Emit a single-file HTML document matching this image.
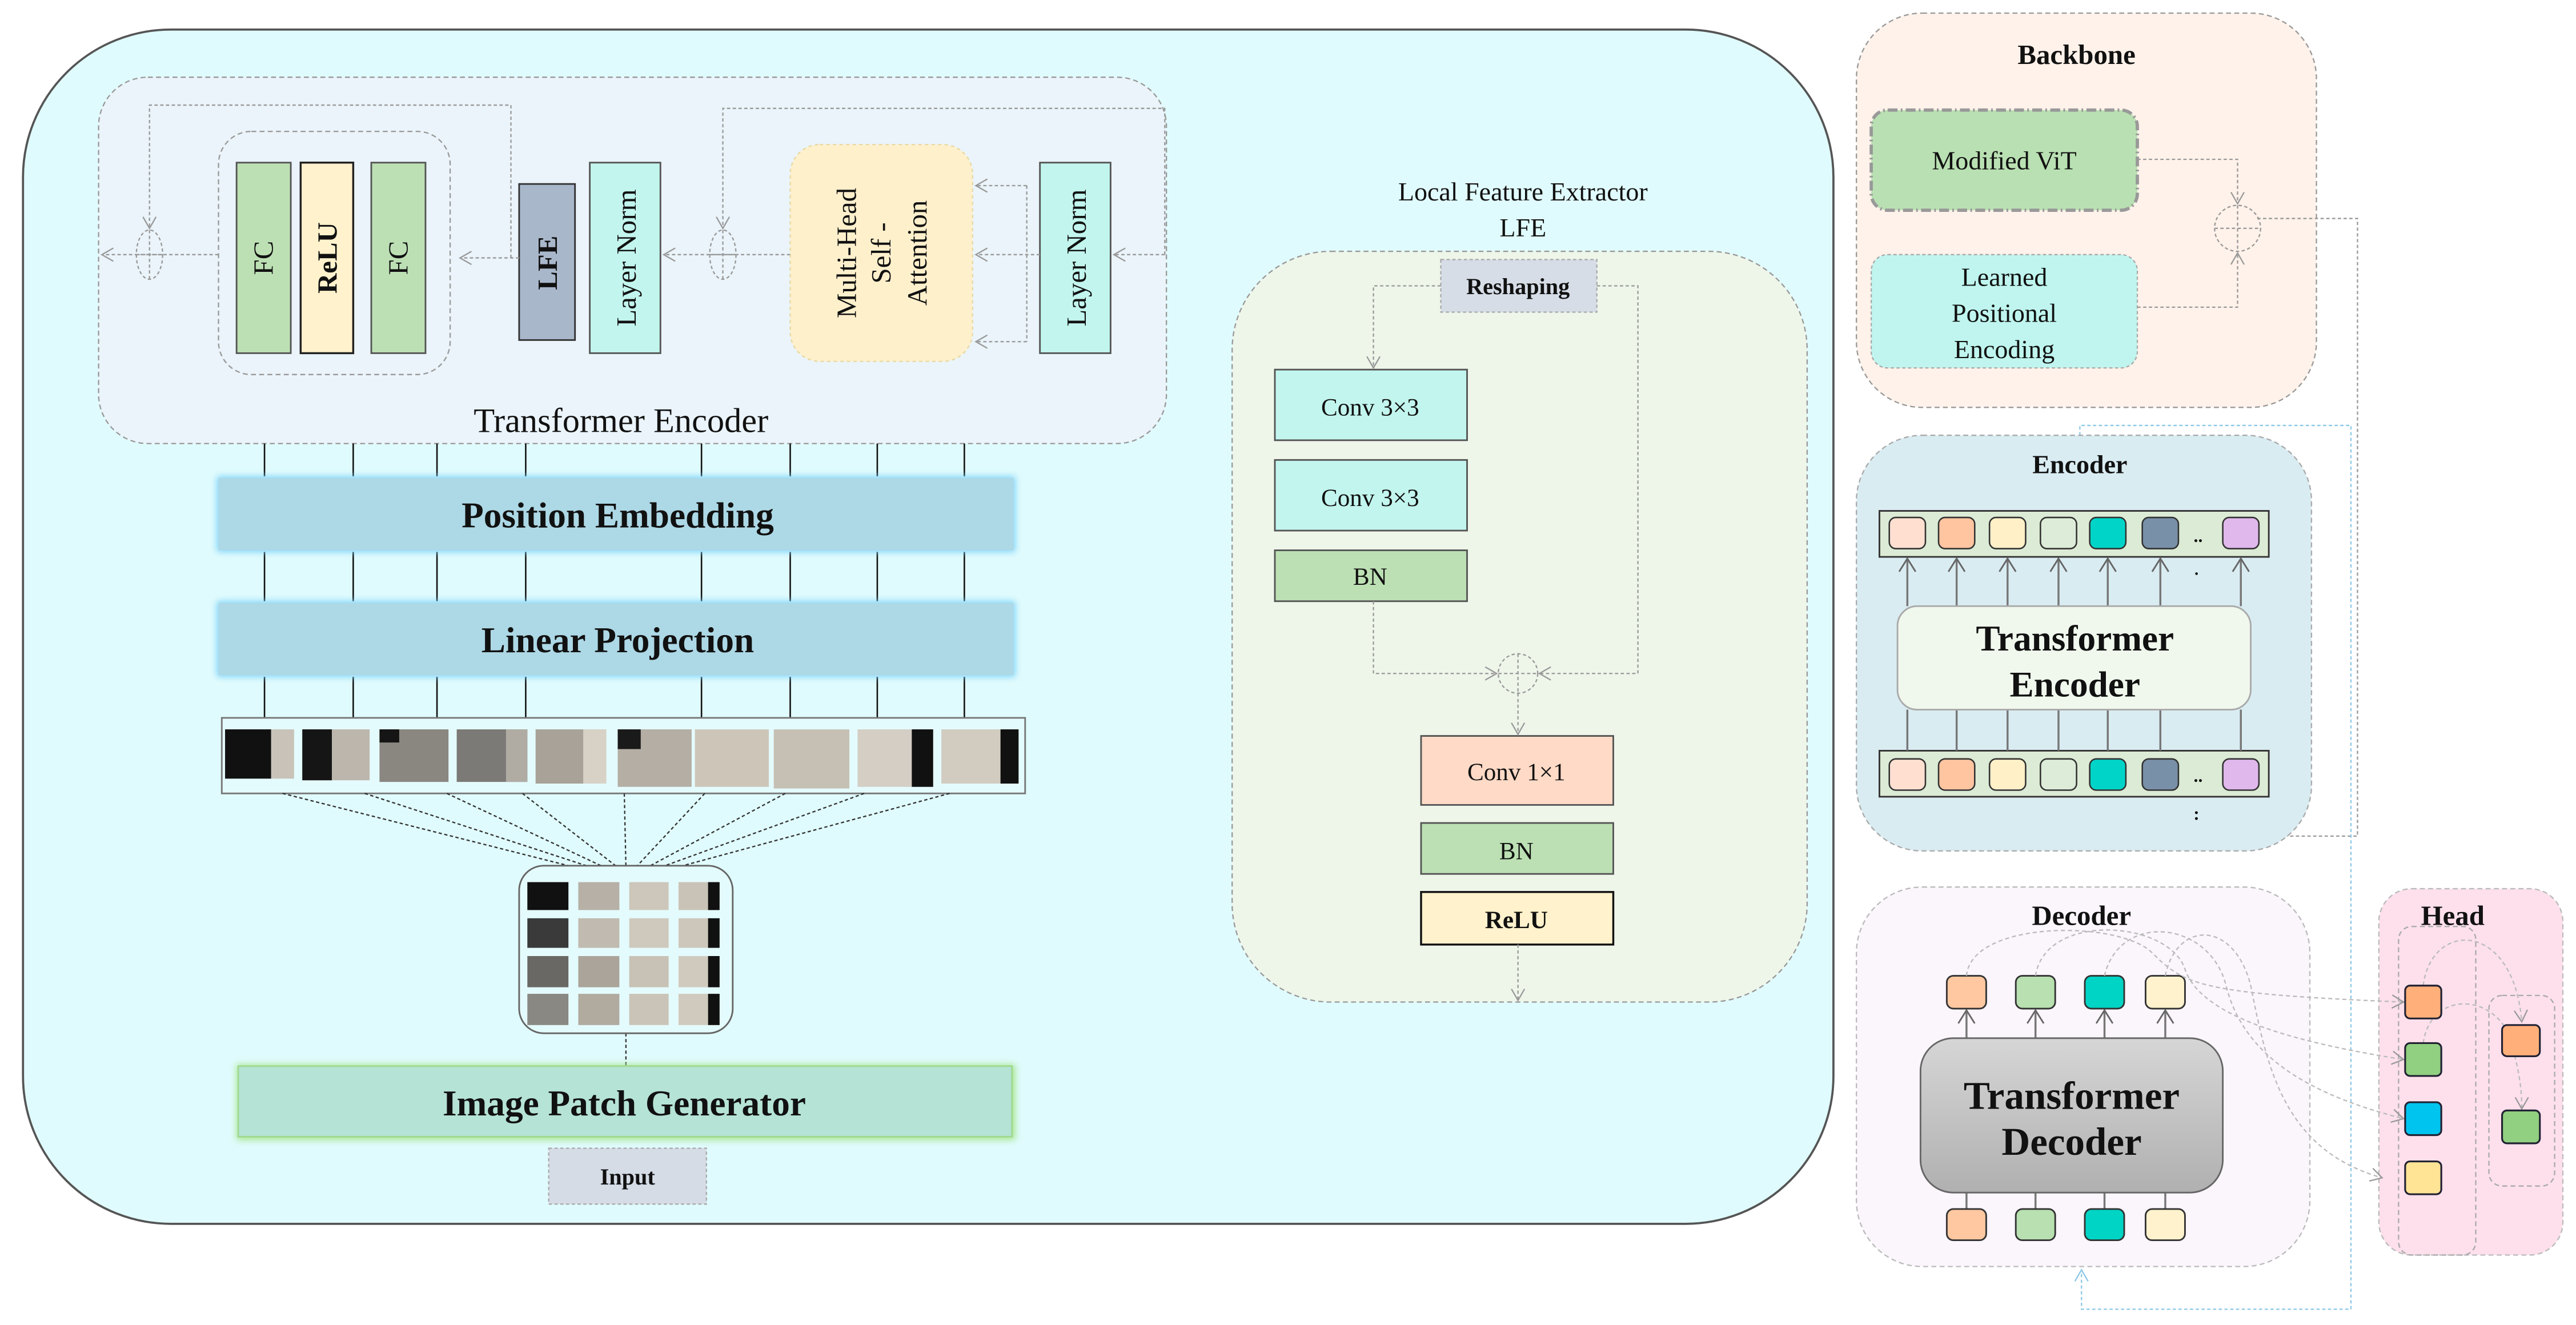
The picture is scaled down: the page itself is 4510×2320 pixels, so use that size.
<!DOCTYPE html>
<html><head><meta charset="utf-8"><style>
html,body{margin:0;padding:0;background:#fff;}
svg{display:block;}
text{font-family:"Liberation Serif",serif;fill:#111;}
</style></head><body>
<svg width="4510" height="2320" viewBox="0 0 1568 806.6" xmlns="http://www.w3.org/2000/svg">
<defs>
<marker id="ah" markerWidth="10" markerHeight="10" refX="8" refY="5" orient="auto" markerUnits="userSpaceOnUse"><path d="M1,1 L8,5 L1,9" fill="none" stroke="#999" stroke-width="0.8"/></marker>
<marker id="ahs" markerWidth="12" markerHeight="12" refX="9" refY="6" orient="auto" markerUnits="userSpaceOnUse"><path d="M1,1 L9,6 L1,11" fill="none" stroke="#666" stroke-width="1"/></marker>
<marker id="ahb" markerWidth="10" markerHeight="10" refX="8" refY="5" orient="auto" markerUnits="userSpaceOnUse"><path d="M1,1 L8,5 L1,9" fill="none" stroke="#8cc8e8" stroke-width="0.8"/></marker>
<linearGradient id="dg" x1="0" y1="0" x2="0" y2="1"><stop offset="0" stop-color="#d6d6d6"/><stop offset="1" stop-color="#b0b0b0"/></linearGradient>
<filter id="glow" x="-5%" y="-30%" width="110%" height="160%"><feGaussianBlur stdDeviation="2"/></filter>
</defs>

<rect x="14" y="18" width="1102" height="727" rx="90" fill="#e0fbfd" stroke="#555" stroke-width="1.3"/>

<rect x="60" y="47" width="650" height="223" rx="30" fill="#eaf4fa" stroke="#999" stroke-width="0.8" stroke-dasharray="3,2"/>
<rect x="133" y="80" width="141" height="148" rx="20" fill="none" stroke="#999" stroke-width="0.8" stroke-dasharray="3,2"/>
<rect x="144" y="99" width="33" height="116" fill="#bce0b4" stroke="#555" stroke-width="1"/>
<rect x="183" y="99" width="32" height="116" fill="#fff2cc" stroke="#222" stroke-width="1.2"/>
<rect x="226" y="99" width="33" height="116" fill="#bce0b4" stroke="#555" stroke-width="1"/>
<rect x="316" y="112" width="34" height="95" fill="#a9b7cb" stroke="#333" stroke-width="1"/>
<rect x="359" y="99" width="43" height="116" fill="#c2f5ee" stroke="#555" stroke-width="1"/>
<rect x="481" y="88" width="111" height="132" rx="18" fill="#fff0cc" stroke="#e8d8a0" stroke-width="0.8" stroke-dasharray="2,2"/>
<rect x="633" y="99" width="43" height="116" fill="#c2f5ee" stroke="#555" stroke-width="1"/>
<g font-size="17">
<text transform="translate(166,157) rotate(-90)" text-anchor="middle">FC</text>
<text transform="translate(205,157) rotate(-90)" text-anchor="middle" font-weight="bold">ReLU</text>
<text transform="translate(248,157) rotate(-90)" text-anchor="middle">FC</text>
<text transform="translate(339,160) rotate(-90)" text-anchor="middle" font-weight="bold">LFE</text>
<text transform="translate(387,157) rotate(-90)" text-anchor="middle">Layer Norm</text>
<text transform="translate(661,157) rotate(-90)" text-anchor="middle">Layer Norm</text>
<text transform="translate(521,154) rotate(-90)" text-anchor="middle">Multi-Head</text>
<text transform="translate(542,154) rotate(-90)" text-anchor="middle">Self -</text>
<text transform="translate(564,154) rotate(-90)" text-anchor="middle">Attention</text>
</g>
<g fill="none" stroke="#999" stroke-width="0.8" stroke-dasharray="2,1.5">
<path d="M709,155 L678,155" marker-end="url(#ah)"/>
<path d="M625,113 L625,208"/>
<path d="M633,155 L594,155" marker-end="url(#ah)"/>
<path d="M625,113 L594,113" marker-end="url(#ah)"/>
<path d="M625,208 L594,208" marker-end="url(#ah)"/>
<path d="M481,155 L404,155" marker-end="url(#ah)"/>
<path d="M709,155 L709,66 L440,66 L440,139" marker-end="url(#ah)"/>
<ellipse cx="440" cy="155" rx="8" ry="15"/>
<path d="M432,155 L448,155 M440,140 L440,170"/>
<path d="M316,157 L280,157" marker-end="url(#ah)"/>
<path d="M311,157 L311,64 L91,64 L91,139" marker-end="url(#ah)"/>
<ellipse cx="91" cy="155" rx="8" ry="15"/>
<path d="M83,155 L99,155 M91,140 L91,170"/>
<path d="M133,155 L62,155" marker-end="url(#ah)"/>
</g>
<text x="378" y="263" font-size="21" text-anchor="middle">Transformer Encoder</text>

<g stroke="#111" stroke-width="0.9">
<path d="M161,270V290M215,270V290M266,270V290M320,270V290M427,270V290M481,270V290M534,270V290M587,270V290"/>
<path d="M161,336V366M215,336V366M266,336V366M320,336V366M427,336V366M481,336V366M534,336V366M587,336V366"/>
<path d="M161,412V437M215,412V437M266,412V437M320,412V437M427,412V437M481,412V437M534,412V437M587,412V437"/>
</g>
<rect x="132" y="290" width="486" height="46" fill="#7fd4fa" filter="url(#glow)"/>
<rect x="133" y="291" width="484" height="44" fill="#add8e6"/>
<text x="376" y="321" font-size="22" font-weight="bold" text-anchor="middle">Position Embedding</text>
<rect x="132" y="366" width="486" height="46" fill="#7fd4fa" filter="url(#glow)"/>
<rect x="133" y="367" width="484" height="44" fill="#add8e6"/>
<text x="376" y="397" font-size="22" font-weight="bold" text-anchor="middle">Linear Projection</text>

<rect x="135" y="437" width="489" height="46" fill="#e4fbfd" stroke="#777" stroke-width="1"/>
<g>
<rect x="137" y="444" width="42" height="30" fill="#c8c2b8"/><rect x="137" y="444" width="28" height="30" fill="#111"/>
<rect x="184" y="444" width="41" height="31" fill="#bdb6ac"/><rect x="184" y="444" width="18" height="31" fill="#151515"/>
<rect x="231" y="444" width="42" height="32" fill="#8a8680"/><rect x="231" y="444" width="12" height="8" fill="#151515"/>
<rect x="278" y="444" width="43" height="32" fill="#7c7a76"/><rect x="308" y="444" width="13" height="32" fill="#b0aca4"/>
<rect x="326" y="444" width="43" height="33" fill="#a8a298"/><rect x="355" y="444" width="14" height="33" fill="#d8d2c6"/>
<rect x="376" y="444" width="45" height="35" fill="#b4aea4"/><rect x="376" y="444" width="14" height="12" fill="#1a1a1a"/>
<rect x="423" y="444" width="45" height="35" fill="#cdc6b8"/>
<rect x="471" y="444" width="46" height="36" fill="#c6c0b4"/>
<rect x="522" y="444" width="46" height="35" fill="#d4cec4"/><rect x="555" y="444" width="13" height="35" fill="#111"/>
<rect x="573" y="444" width="47" height="33" fill="#d2ccc0"/><rect x="609" y="444" width="11" height="33" fill="#111"/>
</g>
<g stroke="#333" stroke-width="0.8" stroke-dasharray="2,1.5">
<path d="M172,483L350,528M222,483L360,528M272,483L368,528M318,483L376,528M380,483L381,528M429,483L387,528M478,483L394,528M526,483L402,528M578,483L412,528"/>
<path d="M381,629V649"/>
</g>
<rect x="316" y="527" width="130" height="102" rx="15" fill="#e4fbfd" stroke="#666" stroke-width="1"/>
<g>
<rect x="321" y="537" width="25" height="17" fill="#111"/><rect x="352" y="537" width="25" height="17" fill="#b6b0a6"/><rect x="383" y="537" width="24" height="17" fill="#cdc7bb"/><rect x="413" y="537" width="25" height="17" fill="#c9c3b7"/><rect x="431" y="537" width="7" height="17" fill="#111"/>
<rect x="321" y="559" width="25" height="18" fill="#3a3a3a"/><rect x="352" y="559" width="25" height="18" fill="#c0bab0"/><rect x="383" y="559" width="24" height="18" fill="#cfc9bd"/><rect x="413" y="559" width="25" height="18" fill="#cdc7bb"/><rect x="431" y="559" width="7" height="18" fill="#111"/>
<rect x="321" y="582" width="25" height="19" fill="#6a6864"/><rect x="352" y="582" width="25" height="19" fill="#aaa49a"/><rect x="383" y="582" width="24" height="19" fill="#c8c2b6"/><rect x="413" y="582" width="25" height="19" fill="#d0cabe"/><rect x="431" y="582" width="7" height="19" fill="#111"/>
<rect x="321" y="605" width="25" height="19" fill="#8a8882"/><rect x="352" y="605" width="25" height="19" fill="#b0aa9f"/><rect x="383" y="605" width="24" height="19" fill="#cac4b8"/><rect x="413" y="605" width="25" height="19" fill="#d0cabe"/><rect x="431" y="605" width="7" height="19" fill="#111"/>
</g>
<rect x="144" y="648" width="474" height="46" fill="#a8e690" filter="url(#glow)"/>
<rect x="145" y="649" width="471" height="43" fill="#b5e3d5" stroke="#9fd98f" stroke-width="1"/>
<text x="380" y="679" font-size="22" font-weight="bold" text-anchor="middle">Image Patch Generator</text>
<rect x="334" y="699" width="96" height="34" fill="#d5dce6" stroke="#aaa" stroke-width="0.8" stroke-dasharray="2,1.5"/>
<text x="382" y="721" font-size="14" font-weight="bold" text-anchor="middle">Input</text>

<text x="927" y="122" font-size="16" text-anchor="middle">Local Feature Extractor</text>
<text x="927" y="144" font-size="16" text-anchor="middle">LFE</text>
<rect x="750" y="153" width="350" height="457" rx="60" fill="#eef6ea" stroke="#999" stroke-width="0.8" stroke-dasharray="3,2"/>
<rect x="877" y="158" width="95" height="32" fill="#d6dde6" stroke="#aaa" stroke-width="0.8" stroke-dasharray="2,1.5"/>
<text x="924" y="179" font-size="14" font-weight="bold" text-anchor="middle">Reshaping</text>
<rect x="776" y="225" width="117" height="43" fill="#c2f5ee" stroke="#555" stroke-width="1"/>
<text x="834" y="253" font-size="15" text-anchor="middle">Conv 3×3</text>
<rect x="776" y="280" width="117" height="43" fill="#c2f5ee" stroke="#555" stroke-width="1"/>
<text x="834" y="308" font-size="15" text-anchor="middle">Conv 3×3</text>
<rect x="776" y="335" width="117" height="31" fill="#bce0b4" stroke="#555" stroke-width="1"/>
<text x="834" y="356" font-size="15" text-anchor="middle">BN</text>
<rect x="865" y="448" width="117" height="42" fill="#ffdac6" stroke="#555" stroke-width="1"/>
<text x="923" y="475" font-size="15" text-anchor="middle">Conv 1×1</text>
<rect x="865" y="501" width="117" height="31" fill="#bce0b4" stroke="#555" stroke-width="1"/>
<text x="923" y="523" font-size="15" text-anchor="middle">BN</text>
<rect x="865" y="543" width="117" height="32" fill="#fff2cc" stroke="#111" stroke-width="1.2"/>
<text x="923" y="565" font-size="15" font-weight="bold" text-anchor="middle">ReLU</text>
<g fill="none" stroke="#999" stroke-width="0.8" stroke-dasharray="2,1.5">
<path d="M877,174 L836,174 L836,224" marker-end="url(#ah)"/>
<path d="M972,174 L997,174 L997,410 L937,410" marker-end="url(#ah)"/>
<path d="M836,366 L836,410 L911,410" marker-end="url(#ah)"/>
<circle cx="924" cy="410" r="12"/>
<path d="M912,410H936M924,398V422"/>
<path d="M924,422 L924,447" marker-end="url(#ah)"/>
<path d="M924,575 L924,609" marker-end="url(#ah)"/>
</g>

<rect x="1130" y="8" width="280" height="240" rx="40" fill="#fff2ea" stroke="#999" stroke-width="0.8" stroke-dasharray="3,2"/>
<text x="1264" y="39" font-size="17" font-weight="bold" text-anchor="middle">Backbone</text>
<rect x="1139" y="67" width="162" height="61" rx="10" fill="#b9e0b2" stroke="#999" stroke-width="2" stroke-dasharray="6,2,1,2"/>
<text x="1220" y="103" font-size="16" text-anchor="middle">Modified ViT</text>
<rect x="1139" y="155" width="162" height="69" rx="10" fill="#bff5ee" stroke="#aaa" stroke-width="0.8" stroke-dasharray="2,1.5"/>
<text x="1220" y="174" font-size="16" text-anchor="middle">Learned</text>
<text x="1220" y="196" font-size="16" text-anchor="middle">Positional</text>
<text x="1220" y="218" font-size="16" text-anchor="middle">Encoding</text>
<g fill="none" stroke="#999" stroke-width="0.8" stroke-dasharray="2,1.5">
<path d="M1301,97 L1362,97 L1362,124" marker-end="url(#ah)"/>
<path d="M1301,187 L1362,187 L1362,154" marker-end="url(#ah)"/>
<circle cx="1362" cy="139" r="14"/>
<path d="M1348,139H1376M1362,125V153"/>
<path d="M1374,133 L1435,133 L1435,509 L1263,509 L1263,487" marker-end="url(#ah)"/>
</g>
<g fill="none" stroke="#8cc8e8" stroke-width="0.8" stroke-dasharray="2,1.5">
<path d="M1266,265 L1266,259 L1431,259 L1431,797 L1267,797 L1267,773" marker-end="url(#ahb)"/>
</g>

<rect x="1130" y="265" width="277" height="253" rx="40" fill="#d9ecf2" stroke="#aaa" stroke-width="0.8" stroke-dasharray="3,2"/>
<text x="1266" y="288" font-size="16" font-weight="bold" text-anchor="middle">Encoder</text>
<rect x="1144" y="311" width="237" height="28" fill="#dcebd5" stroke="#333" stroke-width="1"/>
<rect x="1144" y="457" width="237" height="28" fill="#dcebd5" stroke="#333" stroke-width="1"/>
<g stroke="#333" stroke-width="0.9">
<rect x="1150" y="315" width="22" height="19" rx="4" fill="#ffe0d0"/>
<rect x="1180" y="315" width="22" height="19" rx="4" fill="#ffc4a0"/>
<rect x="1211" y="315" width="22" height="19" rx="4" fill="#fff0c8"/>
<rect x="1242" y="315" width="22" height="19" rx="4" fill="#dcecd8"/>
<rect x="1272" y="315" width="22" height="19" rx="4" fill="#00d4c8"/>
<rect x="1304" y="315" width="22" height="19" rx="4" fill="#7890a8"/>
<rect x="1353" y="315" width="22" height="19" rx="4" fill="#e0b8ec"/>
<rect x="1150" y="462" width="22" height="19" rx="4" fill="#ffe0d0"/>
<rect x="1180" y="462" width="22" height="19" rx="4" fill="#ffc4a0"/>
<rect x="1211" y="462" width="22" height="19" rx="4" fill="#fff0c8"/>
<rect x="1242" y="462" width="22" height="19" rx="4" fill="#dcecd8"/>
<rect x="1272" y="462" width="22" height="19" rx="4" fill="#00d4c8"/>
<rect x="1304" y="462" width="22" height="19" rx="4" fill="#7890a8"/>
<rect x="1353" y="462" width="22" height="19" rx="4" fill="#e0b8ec"/>
</g>
<text x="1338" y="330" font-size="11" font-weight="bold" text-anchor="middle">..</text>
<text x="1338" y="476" font-size="11" font-weight="bold" text-anchor="middle">..</text>
<text x="1337" y="350" font-size="10" font-weight="bold" text-anchor="middle">.</text>
<text x="1337" y="499" font-size="11" font-weight="bold" text-anchor="middle">:</text>
<g stroke="#777" stroke-width="1.2" fill="none">
<path d="M1161,369V340" marker-end="url(#ahs)"/>
<path d="M1191,369V340" marker-end="url(#ahs)"/>
<path d="M1222,369V340" marker-end="url(#ahs)"/>
<path d="M1253,369V340" marker-end="url(#ahs)"/>
<path d="M1283,369V340" marker-end="url(#ahs)"/>
<path d="M1315,369V340" marker-end="url(#ahs)"/>
<path d="M1364,369V340" marker-end="url(#ahs)"/>
<path d="M1161,432V457M1191,432V457M1222,432V457M1253,432V457M1283,432V457M1315,432V457M1364,432V457"/>
</g>
<rect x="1155" y="369" width="215" height="63" rx="12" fill="#f0f8ee" stroke="#aaa" stroke-width="1"/>
<text x="1263" y="396" font-size="22" font-weight="bold" text-anchor="middle">Transformer</text>
<text x="1263" y="424" font-size="22" font-weight="bold" text-anchor="middle">Encoder</text>

<rect x="1130" y="540" width="276" height="231" rx="40" fill="#fbf5fc" stroke="#bbb" stroke-width="0.8" stroke-dasharray="3,2"/>
<text x="1267" y="563" font-size="17" font-weight="bold" text-anchor="middle">Decoder</text>
<g stroke="#777" stroke-width="1.2" fill="none">
<path d="M1197,632V615" marker-end="url(#ahs)"/>
<path d="M1239,632V615" marker-end="url(#ahs)"/>
<path d="M1281,632V615" marker-end="url(#ahs)"/>
<path d="M1318,632V615" marker-end="url(#ahs)"/>
<path d="M1197,726V736M1239,726V736M1281,726V736M1318,726V736"/>
</g>
<rect x="1169" y="632" width="184" height="94" rx="20" fill="url(#dg)" stroke="#666" stroke-width="1"/>
<text x="1261" y="675" font-size="24" font-weight="bold" text-anchor="middle">Transformer</text>
<text x="1261" y="703" font-size="24" font-weight="bold" text-anchor="middle">Decoder</text>
<g stroke="#333" stroke-width="1">
<rect x="1185" y="594" width="24" height="20" rx="4" fill="#ffc8a0"/>
<rect x="1227" y="594" width="24" height="20" rx="4" fill="#b8e0b0"/>
<rect x="1269" y="594" width="24" height="20" rx="4" fill="#00d4c4"/>
<rect x="1306" y="594" width="24" height="20" rx="4" fill="#fff2cc"/>
<rect x="1185" y="736" width="24" height="19" rx="4" fill="#ffc8a0"/>
<rect x="1227" y="736" width="24" height="19" rx="4" fill="#b8e0b0"/>
<rect x="1269" y="736" width="24" height="19" rx="4" fill="#00d4c4"/>
<rect x="1306" y="736" width="24" height="19" rx="4" fill="#fff2cc"/>
</g>

<rect x="1448" y="541" width="112" height="223" rx="20" fill="#fde0ec" stroke="#bbb" stroke-width="0.8" stroke-dasharray="3,2"/>
<text x="1493" y="563" font-size="17" font-weight="bold" text-anchor="middle">Head</text>
<rect x="1460" y="564" width="47" height="200" rx="8" fill="none" stroke="#aaa" stroke-width="0.8" stroke-dasharray="3,2"/>
<rect x="1515" y="606" width="40" height="116" rx="8" fill="none" stroke="#aaa" stroke-width="0.8" stroke-dasharray="3,2"/>
<g fill="none" stroke="#bbb" stroke-width="0.8" stroke-dasharray="2.5,1.8">
<path d="M1197,594 C1200,560 1290,560 1310,580 C1330,600 1340,605 1463,610" marker-end="url(#ah)"/>
<path d="M1239,594 C1245,555 1320,560 1330,590 C1340,620 1400,635 1463,645" marker-end="url(#ah)"/>
<path d="M1281,594 C1290,555 1345,560 1355,600 C1365,640 1400,665 1463,681" marker-end="url(#ah)"/>
<path d="M1318,594 C1325,560 1360,560 1370,600 C1380,650 1390,700 1450,717" marker-end="url(#ah)"/>
<path d="M1475,600 C1480,560 1530,560 1535,622" marker-end="url(#ah)"/>
<path d="M1475,635 C1480,600 1525,605 1530,640 C1534,655 1535,665 1535,675" marker-end="url(#ah)"/>
</g>
<g stroke="#223" stroke-width="1.1">
<rect x="1464" y="600" width="22" height="20" rx="3" fill="#ffb07a"/>
<rect x="1464" y="635" width="22" height="20" rx="3" fill="#90d080"/>
<rect x="1464" y="671" width="22" height="20" rx="3" fill="#00c4f0"/>
<rect x="1464" y="707" width="22" height="20" rx="3" fill="#ffe496"/>
<rect x="1523" y="624" width="23" height="19" rx="3" fill="#ffb07a"/>
<rect x="1523" y="676" width="23" height="20" rx="3" fill="#90d080"/>
</g>
</svg>
</body></html>
